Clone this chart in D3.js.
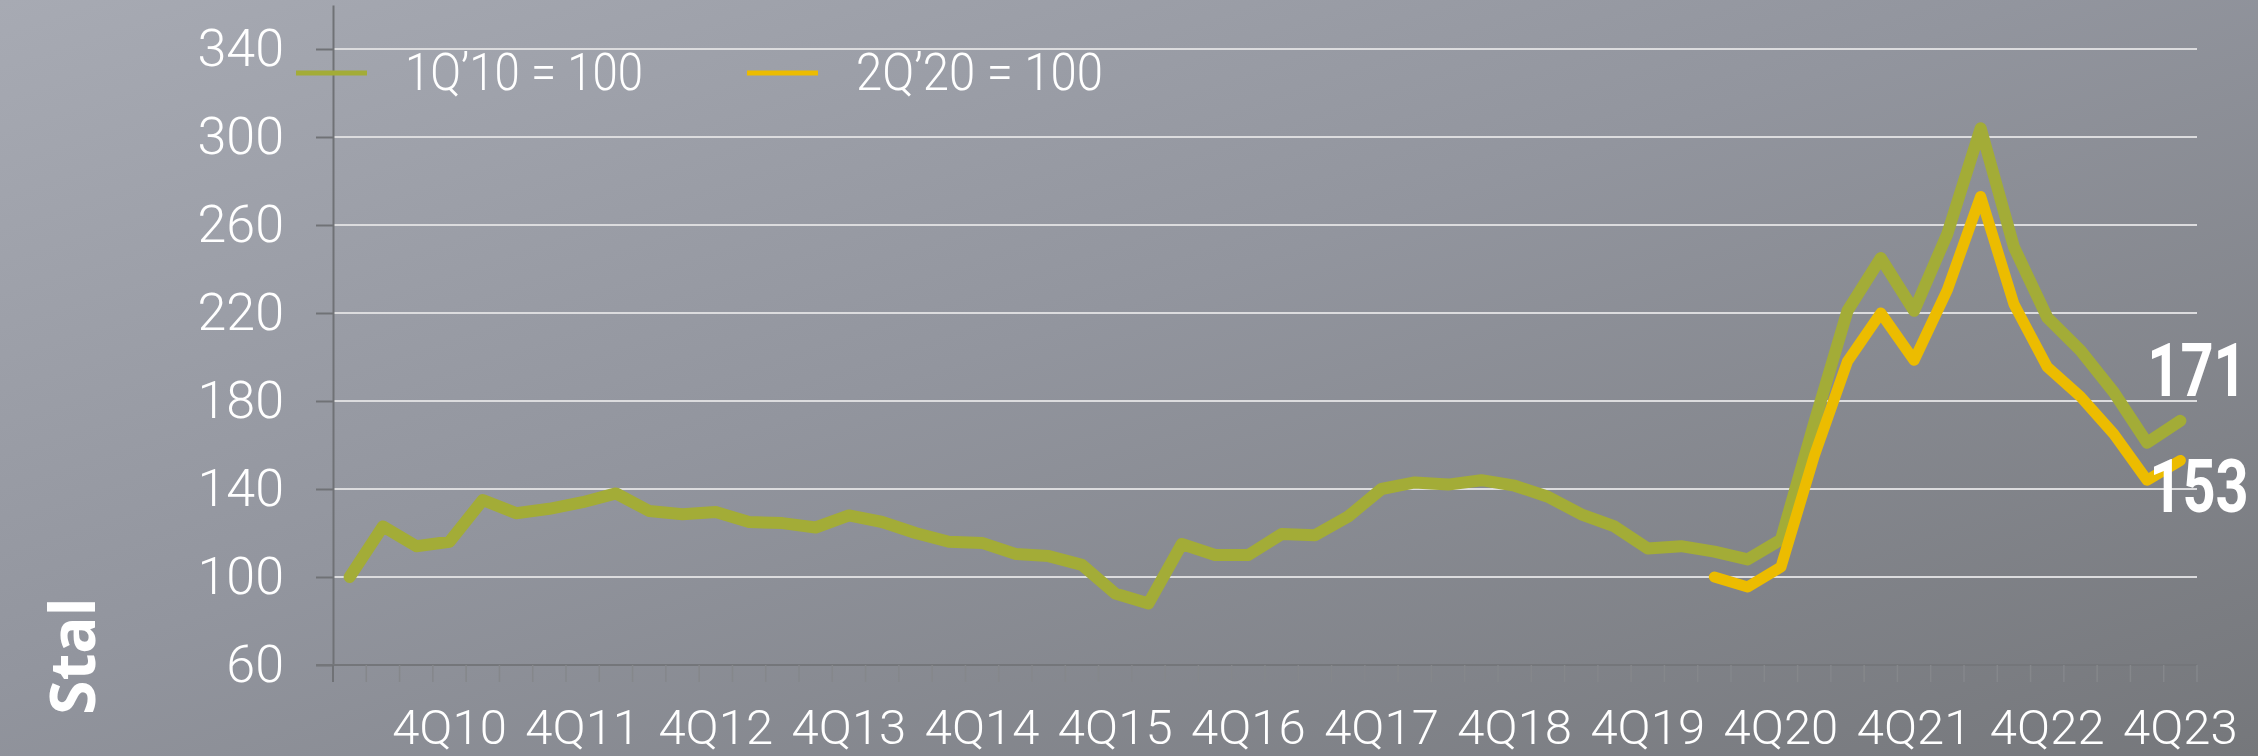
<!DOCTYPE html>
<html>
<head>
<meta charset="utf-8">
<script src="https://cdn.jsdelivr.net/npm/d3@7"></script>
<style>
    body { margin: 0; background: #8e9199; }
    svg { display: block; }
</style>
</head>
<body>
<div id="chart"></div>
<script>
// quarters 1Q10 .. 4Q23
const years = [10, 11, 12, 13, 14, 15, 16, 17, 18, 19, 20, 21, 22, 23];
const quarters = [];
years.forEach(y => [1, 2, 3, 4].forEach(q => quarters.push(q + "Q" + y)));

const xTickLabels = ["4Q10", "4Q11", "4Q12", "4Q13", "4Q14", "4Q15", "4Q16",
    "4Q17", "4Q18", "4Q19", "4Q20", "4Q21", "4Q22", "4Q23"];
const yTicks = [60, 100, 140, 180, 220, 260, 300, 340];

// index 1Q'10 = 100
const steel2010 = [100, 123, 114, 116, 135, 129, 131, 134, 138, 130, 128.5, 129.5,
    125, 124.5, 122.5, 128, 125, 120, 116, 115.5, 110.5, 109.5, 105.5, 92.5,
    88, 115, 110, 110, 119.5, 119, 127.5, 140, 143, 142, 144, 141.5,
    136.5, 128.5, 123, 113, 114, 111.5, 108, 117, 170, 221, 245, 221,
    256, 304, 250, 218, 203, 184, 161, 171];

// index 2Q'20 = 100 (starts at 2Q20)
const steel2020 = [100, 95.5, 104.5, 155, 198, 220, 198.5, 230.5, 273, 224, 195.5, 182, 165, 144, 153];
const steel2020Start = "2Q20";

const seriesNames = ["1Q\u201910 = 100", "2Q\u201920 = 100"];
const endLabels = ["171", "153"];

const W = 2258, H = 756;
const margin = { top: 5, right: 61, bottom: 91, left: 333 };
const green = "#a3ac37", yellow = "#ecbc00";

const svg = d3.select("#chart").append("svg")
    .attr("width", W)
    .attr("height", H);

// background gradient
const defs = svg.append("defs");
const grad = defs.append("linearGradient")
    .attr("id", "bg")
    .attr("x1", "0%").attr("y1", "0%")
    .attr("x2", "100%").attr("y2", "100%");
grad.append("stop").attr("offset", "0%").attr("stop-color", "#a7aab3");
grad.append("stop").attr("offset", "45%").attr("stop-color", "#92959e");
grad.append("stop").attr("offset", "100%").attr("stop-color", "#75777b");
svg.append("rect").attr("width", W).attr("height", H).attr("fill", "url(#bg)");

const x = d3.scaleBand().domain(quarters).range([margin.left, W - margin.right]);
const y = d3.scaleLinear().domain([60, 360]).range([H - margin.bottom, margin.top]);
const cx = q => x(q) + x.bandwidth() / 2;

// gridlines
svg.append("g")
    .selectAll("line")
    .data(yTicks.filter(d => d > 60))
    .join("line")
    .attr("x1", margin.left)
    .attr("x2", W - margin.right)
    .attr("y1", d => y(d))
    .attr("y2", d => y(d))
    .attr("stroke", "#dcdcde")
    .attr("stroke-width", 2);

// y axis
const yAxis = d3.axisLeft(y).tickValues(yTicks).tickSize(17).tickPadding(32).tickSizeOuter(0);
const yg = svg.append("g")
    .attr("transform", `translate(${margin.left},0)`)
    .call(yAxis);
yg.selectAll("path, line").attr("stroke", "#707276").attr("stroke-width", 2);
yg.selectAll("text")
    .attr("fill", "white")
    .style("font-family", "Roboto, 'Open Sans', sans-serif")
    .style("font-weight", 300)
    .style("font-size", "52px");

// x axis baseline and quarter ticks at band edges
svg.append("line")
    .attr("x1", margin.left - 17)
    .attr("x2", W - margin.right)
    .attr("y1", y(60)).attr("y2", y(60))
    .attr("stroke", "#74767a").attr("stroke-width", 2);
svg.append("g")
    .selectAll("line")
    .data(quarters.concat(["end"]))
    .join("line")
    .attr("x1", d => d === "end" ? W - margin.right : x(d))
    .attr("x2", d => d === "end" ? W - margin.right : x(d))
    .attr("y1", y(60))
    .attr("y2", y(60) + 17)
    .attr("stroke", d => d === quarters[0] ? "#707276" : "#85878b")
    .attr("stroke-width", d => d === quarters[0] ? 2 : 1.5);

// x labels
const xAxis = d3.axisBottom(x).tickValues(xTickLabels).tickSize(0).tickPadding(44);
const xg = svg.append("g")
    .attr("transform", `translate(0,${y(60)})`)
    .call(xAxis);
xg.select(".domain").remove();
xg.selectAll("text")
    .attr("fill", "white")
    .style("font-family", "Roboto, 'Open Sans', sans-serif")
    .style("font-weight", 300)
    .style("font-size", "49px");

// lines
const line = d3.line()
    .defined(d => d.v != null)
    .x(d => cx(d.q))
    .y(d => y(d.v));

const data2010 = quarters.map((q, i) => ({ q: q, v: steel2010[i] }));
const start = quarters.indexOf(steel2020Start);
const data2020 = steel2020.map((v, i) => ({ q: quarters[start + i], v: v }));

svg.append("path")
    .datum(data2010)
    .attr("fill", "none")
    .attr("stroke", green)
    .attr("stroke-width", 12)
    .attr("stroke-linejoin", "round")
    .attr("stroke-linecap", "round")
    .attr("d", line);

svg.append("path")
    .datum(data2020)
    .attr("fill", "none")
    .attr("stroke", yellow)
    .attr("stroke-width", 11)
    .attr("stroke-linejoin", "round")
    .attr("stroke-linecap", "round")
    .attr("d", line);

// end labels, narrowed with a horizontal scale
const last = quarters[quarters.length - 1];
const endPos = [
    [cx(last) - 33, y(steel2010[steel2010.length - 1]) - 25],
    [cx(last) - 31, y(steel2020[steel2020.length - 1]) + 52]
];
svg.append("g")
    .selectAll("text")
    .data(endLabels)
    .join("text")
    .attr("transform", (d, i) => `translate(${endPos[i][0]},${endPos[i][1]}) scale(0.78,1)`)
    .attr("fill", "white")
    .style("font-family", "Roboto, 'Open Sans', sans-serif")
    .style("font-weight", "bold")
    .style("font-size", "74px")
    .text(d => d);

// legend
const legend = svg.append("g");
const legendItems = [
    { name: seriesNames[0], color: green, x0: 296, len: 238 },
    { name: seriesNames[1], color: yellow, x0: 747, len: 247 }
];
legendItems.forEach(d => {
    legend.append("line")
        .attr("x1", d.x0).attr("x2", d.x0 + 71)
        .attr("y1", 73).attr("y2", 73)
        .attr("stroke", d.color).attr("stroke-width", 5);
    legend.append("text")
        .attr("x", d.x0 + 109)
        .attr("y", 90)
        .attr("fill", "white")
        .attr("textLength", d.len)
        .attr("lengthAdjust", "spacingAndGlyphs")
        .style("font-family", "Roboto, 'Open Sans', sans-serif")
        .style("font-weight", 300)
        .style("font-size", "52px")
        .text(d.name);
});

// vertical title
svg.append("text")
    .attr("transform", "translate(95,656) rotate(-90)")
    .attr("text-anchor", "middle")
    .attr("fill", "white")
    .style("font-family", "'Open Sans', sans-serif")
    .style("font-weight", "bold")
    .style("font-size", "62px")
    .text("Stal");
</script>
</body>
</html>
